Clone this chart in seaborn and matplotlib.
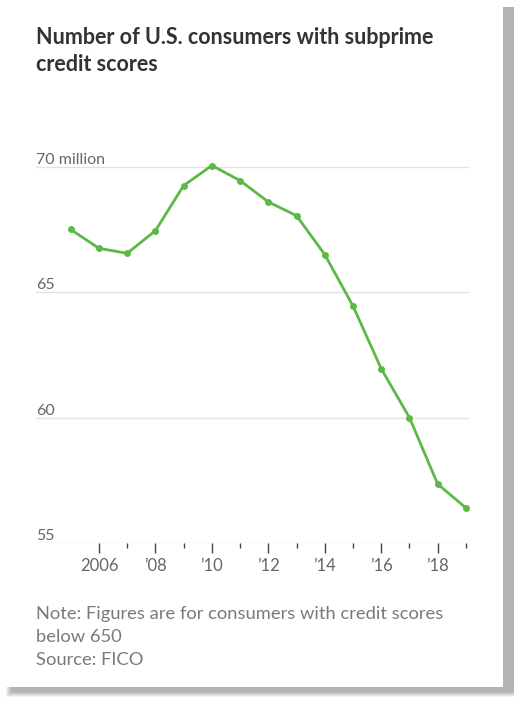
import pandas as pd
import seaborn as sns
import matplotlib.pyplot as plt
from matplotlib.patches import Rectangle
from matplotlib.ticker import FixedLocator
import matplotlib.transforms as mtransforms

# Subprime consumers (millions)
years = list(range(2005, 2020))
consumers = [67.5, 66.75, 66.55, 67.45, 69.25, 70.05, 69.45, 68.6, 68.05,
             66.5, 64.45, 61.95, 60.0, 57.35, 56.4]
y_ticks = [55, 60, 65, 70]
y_labels = ['55', '60', '65', '70 million']
x_ticks = [2006, 2008, 2010, 2012, 2014, 2016, 2018]
x_minor = [2007, 2009, 2011, 2013, 2015, 2017, 2019]
x_labels = ['2006', "\u201908", "\u201910", "\u201912", "\u201914", "\u201916", "\u201918"]

df = pd.DataFrame({'year': years, 'consumers': consumers})

sns.set_style('white')
plt.rcParams['font.family'] = ['Lato', 'DejaVu Sans']

W, H = 520, 702
fig = plt.figure(figsize=(W / 100, H / 100), dpi=100)

# soft drop shadow on right and bottom of the card
for i, a in enumerate([0.10, 0.12, 0.14, 0.16, 0.18, 0.2]):
    fig.patches.append(Rectangle(((6 + i) / W, 1 - (697 - i) / H), (508 - i) / W, (690 - i) / H,
                                 transform=fig.transFigure, color='#888888', alpha=a,
                                 lw=0, zorder=-3))
fig.patches.append(Rectangle((0, 1 - 687 / H), 503 / W, 687 / H, transform=fig.transFigure,
                             color='white', lw=0, zorder=-2))

ax = fig.add_axes([36 / W, 1 - 543 / H, 433 / W, 384 / H])
ax.set_facecolor('none')

sns.lineplot(data=df, x='year', y='consumers', ax=ax, color='#5cb946', linewidth=2.0,
             marker='o', markersize=5, markeredgewidth=0)

ax.set_xlim(2003.77, 2019.11)
ax.set_ylim(55, 70.31)

for v in y_ticks:
    ax.axhline(v, color='#e2e2e2', lw=1, zorder=0)

trans = mtransforms.blended_transform_factory(ax.transAxes, ax.transData)
for v, lab in zip(y_ticks, y_labels):
    ax.text(0, v, lab, transform=trans, ha='left', va='bottom', fontsize=11.5,
            color='#666666')
ax.set_yticks([])

ax.set_xticks(x_ticks)
ax.set_xticklabels(x_labels, fontsize=12, color='#666666')
ax.xaxis.set_minor_locator(FixedLocator(x_minor))
ax.tick_params(axis='x', which='major', length=7, width=1, color='#444444', pad=4)
ax.tick_params(axis='x', which='minor', length=3.5, width=1, color='#444444')
ax.tick_params(axis='x', which='both', bottom=True, direction='out')
ax.set_xlabel('')
ax.set_ylabel('')
sns.despine(ax=ax, left=True, bottom=True)

fig.text(36 / W, 1 - 27 / H, 'Number of U.S. consumers with subprime\ncredit scores',
         ha='left', va='top', fontsize=15.5, fontweight='bold', color='#333333',
         linespacing=1.35)

fig.text(36 / W, 1 - 606 / H, 'Note: Figures are for consumers with credit scores\nbelow 650\nSource: FICO',
         ha='left', va='top', fontsize=13.2, color='#7a7a7a', linespacing=1.55)

fig.savefig('out.png', dpi=100)
